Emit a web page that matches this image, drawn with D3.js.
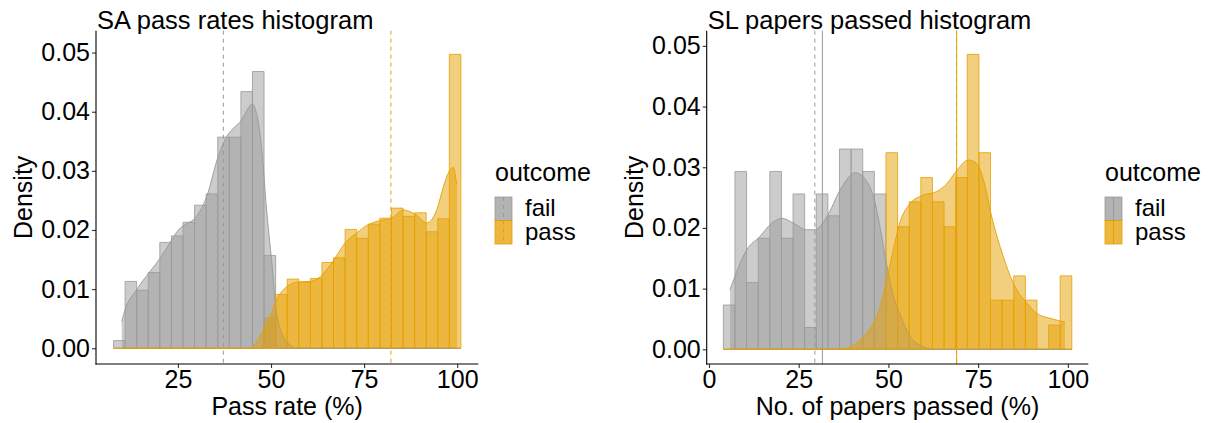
<!DOCTYPE html>
<html>
<head>
<meta charset="utf-8">
<script src="https://cdn.jsdelivr.net/npm/d3@7/dist/d3.min.js"></script>
<style>
  html, body { margin: 0; padding: 0; background: #fff; }
  svg { display: block; }
  text { font-family: "Liberation Sans", Arial, Helvetica, sans-serif; fill: #000; }
</style>
</head>
<body>
<svg id="chart" width="1215" height="423"></svg>
<script>
// ---- data -------------------------------------------------------------
const outcomes = ["fail", "pass"];
const colours = { fail: "#999999", pass: "#E69F00" };

const yTicks = [0, 0.01, 0.02, 0.03, 0.04, 0.05];

// SA pass rates: 30 histogram bins (density scale)
const saBinStart = 7.7;
const saBinWidth = 3.11;
const saFailBins = [0.0013, 0.0113, 0.0098, 0.0128, 0.0179, 0.0190, 0.0213, 0.0242, 0.0261, 0.0357,
                    0.0357, 0.0434, 0.0468, 0.0157, 0, 0, 0, 0, 0, 0,
                    0, 0, 0, 0, 0, 0, 0, 0, 0, 0];
const saPassBins = [0, 0, 0, 0, 0, 0, 0, 0, 0, 0,
                    0, 0, 0, 0.0051, 0.0091, 0.0117, 0.0112, 0.0118, 0.0145, 0.0153,
                    0.0201, 0.0186, 0.0210, 0.0220, 0.0237, 0.0223, 0.0229, 0.0197, 0.0219, 0.0497];
// kernel density estimates: [x, density]
const saFailDensity = [[9.9, 0.0045], [10.8, 0.0065], [13.9, 0.0099], [17.5, 0.0130], [20.2, 0.0152],
                       [23.3, 0.0183], [25.1, 0.0200], [27.4, 0.0211], [29.1, 0.0217], [32.7, 0.0256],
                       [35.8, 0.0324], [38.1, 0.0358], [39.9, 0.0372], [42.1, 0.0386], [43.8, 0.0405],
                       [44.9, 0.0413], [46.0, 0.0400], [47.0, 0.0365], [47.9, 0.0310], [48.6, 0.0250],
                       [49.5, 0.0190], [50.3, 0.0140], [51.3, 0.0070], [53.3, 0.0020], [55.1, 0.0006],
                       [57.0, 0], [70, 0], [100, 0]];
const saPassDensity = [[9.9, 0], [30, 0], [44.4, 0], [47.0, 0.0020], [49.7, 0.0053], [51.5, 0.0082],
                       [54.2, 0.0104], [57.3, 0.0112], [60.5, 0.0113], [63.2, 0.0121], [66.3, 0.0144],
                       [69.9, 0.0178], [73.0, 0.0195], [76.1, 0.0209], [79.3, 0.0216], [82.4, 0.0220],
                       [85.5, 0.0234], [87.3, 0.0231], [89.1, 0.0225], [91.8, 0.0212], [94.5, 0.0234],
                       [96.3, 0.0273], [98.1, 0.0302], [99.0, 0.0306], [99.9, 0.0279], [100, 0.0277]];
const saMeans = { fail: 37.2, pass: 82.2 };
const saXTicks = [25, 50, 75, 100];

// SL papers passed: 30 histogram bins (density scale)
const slBinStart = 4.0;
const slBinWidth = 3.237;
const slFailBins = [0.0073, 0.0293, 0.0110, 0.0183, 0.0293, 0.0183, 0.0256, 0.0036, 0.0256, 0.0220,
                    0.0330, 0.0330, 0.0293, 0.0256, 0, 0, 0, 0, 0, 0,
                    0, 0, 0, 0, 0, 0, 0, 0, 0, 0];
const slPassBins = [0, 0, 0, 0, 0, 0, 0, 0, 0, 0,
                    0, 0, 0, 0, 0.0324, 0.0202, 0.0243, 0.0283, 0.0243, 0.0202,
                    0.0283, 0.0486, 0.0324, 0.0081, 0.0081, 0.0121, 0.0081, 0, 0.0040, 0.0121];
const slFailDensity = [[5.85, 0.0098], [10.5, 0.0164], [14.2, 0.0186], [17.5, 0.0208], [20.3, 0.0216],
                       [23.5, 0.0208], [27.2, 0.0197], [29.5, 0.0197], [32.8, 0.0218], [36.5, 0.0262],
                       [40.7, 0.0291], [43.0, 0.0284], [46.3, 0.0241], [47.7, 0.0200], [49.5, 0.0140],
                       [51.3, 0.0090], [53.2, 0.0058], [56.0, 0.0022], [58.8, 0.0007], [63.0, 0],
                       [80, 0], [99.2, 0]];
const slPassDensity = [[5.85, 0], [20, 0], [36.5, 0], [39.3, 0.0004], [42.1, 0.0015], [44.0, 0.0027],
                       [45.8, 0.0043], [47.7, 0.0070], [49.5, 0.0115], [51.4, 0.0165], [53.0, 0.0205],
                       [56.0, 0.0240], [59.7, 0.0254], [63.5, 0.0260], [66.3, 0.0273], [69.1, 0.0295],
                       [72.3, 0.0312], [74.6, 0.0306], [76.5, 0.0279], [78.8, 0.0218], [82.0, 0.0153],
                       [84.8, 0.0109], [88.6, 0.0076], [91.4, 0.0059], [95.1, 0.0051], [99.2, 0.0045]];
const slMeans = { fail: 29.5, pass: 69.0 };
const slMedians = { fail: 31.6, pass: 69.0 };
const slXTicks = [0, 25, 50, 75, 100];

// ---- drawing ----------------------------------------------------------
const svg = d3.select("#chart");
const FONT = 25;

function drawPanel(cfg) {
  const g = svg.append("g");
  const x = d3.scaleLinear().domain(cfg.xDomain).range([cfg.left, cfg.right]);
  const y = d3.scaleLinear().domain(cfg.yDomain).range([cfg.bottom, cfg.top]);

  // histogram bars: fail first, then pass
  outcomes.forEach(o => {
    const bins = cfg.bins[o];
    g.append("g").selectAll("path").data(bins).join("path")
      .attr("d", (d, i) => {
        const x0 = x(cfg.binStart + i * cfg.binWidth);
        const x1 = x(cfg.binStart + (i + 1) * cfg.binWidth);
        const y0 = y(0), y1 = y(d);
        return `M${x0},${y0}V${y1}H${x1}V${y0}Z`;
      })
      .attr("fill", colours[o]).attr("fill-opacity", 0.5)
      .attr("stroke", colours[o]).attr("stroke-width", 0.8);
  });

  // density curves
  outcomes.forEach(o => {
    const pts = cfg.density[o];
    const area = d3.area().x(d => x(d[0])).y0(y(0)).y1(d => y(d[1])).curve(d3.curveMonotoneX);
    const line = d3.line().x(d => x(d[0])).y(d => y(d[1])).curve(d3.curveMonotoneX);
    g.append("path").attr("d", area(pts))
      .attr("fill", colours[o]).attr("fill-opacity", 0.5).attr("stroke", "none");
    g.append("path").attr("d", line(pts))
      .attr("fill", "none").attr("stroke", colours[o]).attr("stroke-width", 0.9);
  });

  // median (solid) and mean (dashed) reference lines
  if (cfg.medians) {
    outcomes.forEach(o => {
      g.append("line")
        .attr("x1", x(cfg.medians[o])).attr("x2", x(cfg.medians[o]))
        .attr("y1", cfg.top).attr("y2", cfg.bottom)
        .attr("stroke", colours[o]).attr("stroke-width", 1);
    });
  }
  outcomes.forEach(o => {
    g.append("line")
      .attr("x1", x(cfg.means[o])).attr("x2", x(cfg.means[o]))
      .attr("y1", cfg.top).attr("y2", cfg.bottom)
      .attr("stroke", colours[o]).attr("stroke-width", 1)
      .attr("stroke-dasharray", "4,4");
  });

  // axes
  const yAxis = d3.axisLeft(y).tickValues(yTicks).tickFormat(d3.format(".2f"))
    .tickSize(4).tickPadding(2);
  const ya = g.append("g").attr("transform", `translate(${cfg.left},0)`).call(yAxis);
  const xAxis = d3.axisBottom(x).tickValues(cfg.xTicks).tickFormat(d3.format("d"))
    .tickSize(4).tickPadding(2);
  const xa = g.append("g").attr("transform", `translate(0,${cfg.bottom})`).call(xAxis);
  [ya, xa].forEach(a => {
    a.select(".domain").remove();
    a.selectAll(".tick line").attr("stroke", "#333").attr("stroke-width", 1.1);
    a.selectAll(".tick text").attr("font-size", FONT).attr("font-family", null).attr("fill", "#000");
  });
  // axis lines
  g.append("line").attr("x1", cfg.left).attr("x2", cfg.left)
    .attr("y1", cfg.top).attr("y2", cfg.bottom + 0.5)
    .attr("stroke", "#000").attr("stroke-width", 1.1);
  g.append("line").attr("x1", cfg.left - 0.5).attr("x2", cfg.right)
    .attr("y1", cfg.bottom).attr("y2", cfg.bottom)
    .attr("stroke", "#000").attr("stroke-width", 1.1);

  // titles
  g.append("text").attr("x", cfg.left + 1).attr("y", 29)
    .attr("font-size", 25.5).text(cfg.title);
  g.append("text").attr("x", (cfg.left + cfg.right) / 2).attr("y", 415)
    .attr("text-anchor", "middle").attr("font-size", FONT).text(cfg.xLabel);
  g.append("text")
    .attr("transform", `translate(${cfg.left - 64},${(cfg.top + cfg.bottom) / 2}) rotate(-90)`)
    .attr("text-anchor", "middle").attr("font-size", FONT).text("Density");

  // legend
  const lg = g.append("g").attr("transform", `translate(${cfg.legendX},0)`);
  lg.append("text").attr("x", 0).attr("y", 181).attr("font-size", FONT).text("outcome");
  outcomes.forEach((o, i) => {
    const ky = 197 + i * 23.5;
    lg.append("rect").attr("x", 0).attr("y", ky).attr("width", 17).attr("height", 23.5)
      .attr("fill", colours[o]).attr("fill-opacity", 0.5)
      .attr("stroke", colours[o]).attr("stroke-width", 0.8);
    lg.append("rect").attr("x", 0).attr("y", ky).attr("width", 17).attr("height", 23.5)
      .attr("fill", colours[o]).attr("fill-opacity", 0.5).attr("stroke", "none");
    if (cfg.medians) {
      lg.append("line").attr("x1", 8.5).attr("x2", 8.5).attr("y1", ky).attr("y2", ky + 23.5)
        .attr("stroke", colours[o]).attr("stroke-width", 1);
    }
    lg.append("line").attr("x1", 8.5).attr("x2", 8.5).attr("y1", ky).attr("y2", ky + 23.5)
      .attr("stroke", colours[o]).attr("stroke-width", 1).attr("stroke-dasharray", "4,4");
    lg.append("text").attr("x", 30).attr("y", ky + 19).attr("font-size", 24).text(o);
  });
}

drawPanel({
  title: "SA pass rates histogram",
  xLabel: "Pass rate (%)",
  left: 96, right: 478.3, top: 30.7, bottom: 364,
  xDomain: [3.0, 105.67], yDomain: [-0.00266, 0.0537],
  binStart: saBinStart, binWidth: saBinWidth,
  bins: { fail: saFailBins, pass: saPassBins },
  density: { fail: saFailDensity, pass: saPassDensity },
  means: saMeans, medians: null,
  xTicks: saXTicks,
  legendX: 495
});

drawPanel({
  title: "SL papers passed histogram",
  xLabel: "No. of papers passed (%)",
  left: 706.7, right: 1088.3, top: 30.7, bottom: 364,
  xDomain: [-0.64, 105.7], yDomain: [-0.00242, 0.0525],
  binStart: slBinStart, binWidth: slBinWidth,
  bins: { fail: slFailBins, pass: slPassBins },
  density: { fail: slFailDensity, pass: slPassDensity },
  means: slMeans, medians: slMedians,
  xTicks: slXTicks,
  legendX: 1105
});
</script>
</body>
</html>
